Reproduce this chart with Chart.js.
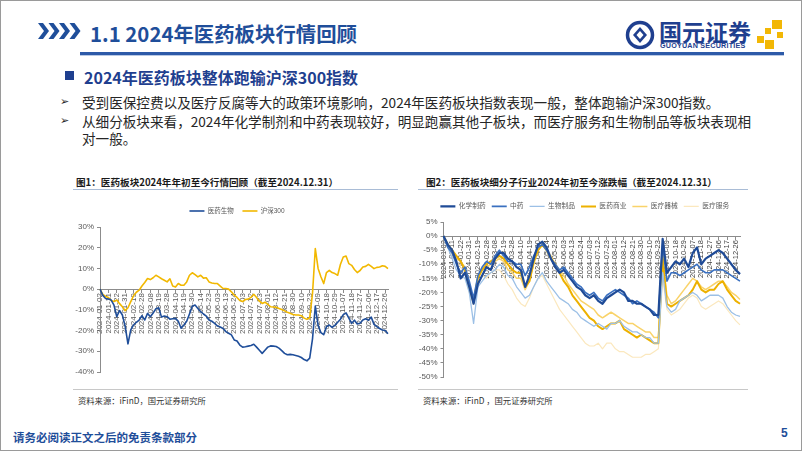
<!DOCTYPE html>
<html>
<head>
<meta charset="utf-8">
<script src="https://cdn.jsdelivr.net/npm/chart.js@4.4.1/dist/chart.umd.min.js"></script>
<style>
  html, body { margin: 0; padding: 0; background: #fff; }
  #slide { position: relative; width: 802px; height: 451px; overflow: hidden; background: #fff; font-family: 'Noto Sans CJK SC', sans-serif; }
  #frame { position: absolute; left: 0; top: 0; width: 802px; height: 451px; box-sizing: border-box; border: 1px solid #9a9a9a; pointer-events: none; }
  .t { position: absolute; white-space: nowrap; }
  .hd { left: 90px; top: 20px; font-size: 20.4px; line-height: 26px; font-weight: bold; color: #1f4e9a; }
  .sec { left: 84px; top: 67px; font-size: 16px; line-height: 20px; font-weight: bold; color: #1f3f8f; }
  .body { left: 82px; font-size: 13.6px; line-height: 20px; color: #262626; }
  .bul { left: 60px; font-size: 11px; line-height: 20px; color: #262626; font-family: 'DejaVu Sans', sans-serif; }
  .ctitle { top: 176px; font-size: 9.6px; line-height: 12px; font-weight: bold; color: #1a1a1a; }
  .src { top: 395px; font-size: 8.3px; line-height: 10px; color: #333; }
  .rule { position: absolute; height: 0; }
  canvas { position: absolute; }
</style>
</head>
<body>
<div id="slide">
  <svg class="t" style="left:38px;top:23px" width="44" height="16">
    <polygon points="0,0 5,0 11,8 5,16 0,16 6,8" fill="#1f4e9a"/>
    <polygon points="10.5,0 15.5,0 21.5,8 15.5,16 10.5,16 16.5,8" fill="#1f4e9a"/>
    <polygon points="21,0 26,0 32,8 26,16 21,16 27,8" fill="#1f4e9a"/>
    <polygon points="31.5,0 36.5,0 42.5,8 36.5,16 31.5,16 37.5,8" fill="#1f4e9a"/>
  </svg>
  <div class="t hd">1.1 2024年医药板块行情回顾</div>

  <svg class="t" style="left:624px;top:20px" width="32" height="30">
    <circle cx="16" cy="15" r="12.5" fill="none" stroke="#1f3f8f" stroke-width="3.5"/>
    <polygon points="16,7 23,15 16,23 9,15" fill="#1f3f8f"/>
    <polygon points="16,11 19.5,15 16,19 12.5,15" fill="#fff"/>
  </svg>
  <div class="t" style="left:659px;top:18px;font-size:23px;line-height:26px;font-weight:bold;color:#1f3f8f;">国元证券</div>
  <div class="t" style="left:660px;top:42px;font-size:7.2px;line-height:8px;font-weight:bold;color:#1f3f8f;font-family:'Liberation Sans',sans-serif;letter-spacing:0.2px;">GUOYUAN SECURITIES</div>
  <svg class="t" style="left:756px;top:19px" width="30" height="32">
    <rect x="16" y="1" width="10" height="9" fill="#f2b705"/>
    <rect x="9" y="9" width="6" height="6" fill="#f2b705"/>
    <rect x="21" y="13" width="6" height="6" fill="#f2b705"/>
    <rect x="1" y="17" width="7" height="7" fill="#f2b705"/>
    <rect x="9" y="21" width="9" height="9" fill="#f2b705"/>
  </svg>
  <div class="rule" style="left:80px;top:52px;width:704px;border-top:3px solid #2d5aa8;"></div>
  <div class="rule" style="left:80px;top:55px;width:704px;border-top:1px solid #b9c9e4;"></div>

  <div class="t" style="left:65px;top:71px;width:9px;height:9px;background:#1f3f8f;"></div>
  <div class="t sec">2024年医药板块整体跑输沪深300指数</div>

  <div class="t bul" style="top:92px">➢</div>
  <div class="t body" style="top:92px">受到医保控费以及医疗反腐等大的政策环境影响，2024年医药板块指数表现一般，整体跑输沪深300指数。</div>
  <div class="t bul" style="top:111px">➢</div>
  <div class="t body" style="top:111px">从细分板块来看，2024年化学制剂和中药表现较好，明显跑赢其他子板块，而医疗服务和生物制品等板块表现相</div>
  <div class="t body" style="top:128px">对一般。</div>

  <div class="t ctitle" style="left:76px">图1：医药板块2024年年初至今行情回顾（截至2024.12.31）</div>
  <div class="rule" style="left:73px;top:189px;width:325px;border-top:1.5px solid #a9bcd6;"></div>
  <div class="rule" style="left:73px;top:389px;width:325px;border-top:1px solid #c8c8c8;"></div>
  <div class="t src" style="left:78px">资料来源：iFinD，国元证券研究所</div>

  <div class="t ctitle" style="left:426px">图2：医药板块细分子行业2024年初至今涨跌幅（截至2024.12.31）</div>
  <div class="rule" style="left:418px;top:189px;width:330px;border-top:1.5px solid #a9bcd6;"></div>
  <div class="rule" style="left:418px;top:389px;width:330px;border-top:1px solid #c8c8c8;"></div>
  <div class="t src" style="left:423px">资料来源：iFinD ，国元证券研究所</div>

  <canvas id="c1" width="340" height="185" style="left:60px;top:195px"></canvas>
  <canvas id="c2" width="345" height="190" style="left:405px;top:195px"></canvas>

  <div class="t" style="left:13px;top:430px;font-size:11.5px;line-height:14px;font-weight:bold;color:#1f4e9a;">请务必阅读正文之后的免责条款部分</div>
  <div class="t" style="left:781px;top:426px;font-size:12px;line-height:14px;font-weight:bold;color:#1f4e9a;font-family:'Liberation Sans',sans-serif;">5</div>
  <div id="frame"></div>
</div>

<script>
// x-axis tick dates (every 7 trading days)
const tickDates = [
  "2024-01-02", "2024-01-11", "2024-01-22", "2024-01-31", "2024-02-19", "2024-02-28", "2024-03-08",
  "2024-03-19", "2024-03-28", "2024-04-10", "2024-04-19", "2024-04-30", "2024-05-14", "2024-05-23",
  "2024-06-03", "2024-06-13", "2024-06-24", "2024-07-03", "2024-07-12", "2024-07-23", "2024-08-01",
  "2024-08-12", "2024-08-21", "2024-08-30", "2024-09-10", "2024-09-23", "2024-10-09", "2024-10-18",
  "2024-10-29", "2024-11-07", "2024-11-18", "2024-11-27", "2024-12-06", "2024-12-17", "2024-12-26"
];

// Fig 1: cumulative change since 2024-01-02 (%), 3 samples per tick interval
const names1 = ["医药生物", "沪深300"];
const yiyaoShengwu = [
  0, -3.0, -4.5, -4.8, -5.3, -7.7, -13.3, -10.3, -12.5, -18.0, -26.4, -19.7,
  -17.3, -16.0, -14.9, -12.8, -14.9, -11.7, -13.3, -11.5, -9.5, -9.0, -13.5, -13.0,
  -13.3, -14.5, -14.3, -14.1, -15.5, -18.9, -17.3, -15.5, -12.0, -8.3, -7.7, -9.3,
  -10.9, -12.0, -13.0, -14.9, -15.5, -16.5, -17.8, -18.3, -19.0, -20.5, -21.3, -22.1,
  -24.5, -25.0, -27.0, -28.0, -27.8, -27.5, -27.2, -26.6, -28.0, -29.5, -31.0, -29.5,
  -28.0, -27.4, -27.5, -27.7, -28.5, -29.7, -31.0, -31.7, -31.5, -31.7, -32.0, -32.4,
  -33.0, -34.0, -34.6, -33.3, -24.0, -8.2, -17.5, -21.0, -22.0, -18.1, -17.3, -18.5,
  -17.5, -16.0, -14.5, -12.3, -11.5, -14.0, -16.5, -15.0, -16.8, -16.5, -14.9, -14.3,
  -15.0, -13.5, -17.0, -18.1, -19.0, -19.7, -20.0, -21.5
];
const hushen300 = [
  0, -2.5, -3.5, -4.0, -5.5, -6.0, -5.3, -7.0, -8.5, -10.4, -9.0, -6.0,
  -3.2, -1.5, -0.5, 1.5, 3.2, 5.1, 4.6, 5.5, 6.7, 5.9, 5.0, 4.3,
  3.5, 5.0, 1.5, 1.0, 2.7, 1.9, 1.9, 3.5, 6.7, 7.9, 7.0, 5.9,
  6.7, 5.3, 5.5, 3.5, 3.0, 2.7, 2.7, 1.5, 0.3, 0.3, 0.0, -1.3,
  -2.9, -4.0, -5.5, -6.0, -5.0, -4.8, -4.0, -2.5, -4.0, -5.8, -6.9, -6.3,
  -7.3, -8.5, -8.6, -8.8, -9.3, -9.8, -10.5, -11.2, -11.6, -12.2, -12.5, -12.5,
  -12.8, -14.0, -14.6, -13.8, -2.1, 19.6, 10.0, 6.0, 2.7, 8.0, 9.1, 8.0,
  7.5, 6.7, 12.0, 15.5, 16.0, 12.3, 11.5, 9.5, 8.0, 9.0, 10.7, 11.0,
  12.0, 11.0, 9.9, 10.5, 10.7, 11.3, 11.0, 9.9
];

// Fig 2: sub-sector change since 2024-01-02 (%), 2 samples per tick interval
const names2 = ["化学制药", "中药", "生物制品", "医药商业", "医疗器械", "医疗服务"];
const huaxueZhiyao = [
  0, -3, -5, -9, -15, -13, -18, -24, -17, -14, -11, -12, -8, -6, -6, -8, -9, -11, -12, -18,
  -14, -8, -3, -2, -4, -8, -11, -13, -12, -14, -16, -18, -19, -21, -22, -21, -23, -24, -22, -21,
  -20, -19, -20, -23, -23, -24, -24, -25, -26, -28, -28, -1, -13, -11, -9, -10, -8, -11, -6, -4,
  -10, -8, -7, -6, -5, -6, -8, -10, -12, -13.5
];
const zhongyao = [
  0, -4, -6, -10, -13, -11, -16, -22, -14, -11, -9, -10, -7, -5, -7, -9, -9, -10, -10, -14,
  -11, -7, -4, -3, -5, -8, -10, -12, -11, -13, -15, -17, -18, -20, -21, -20, -22, -23, -21, -20,
  -19, -20, -21, -22, -24, -23, -24, -25, -26, -27, -29, -3, -16, -13, -13, -14, -13, -12, -11, -10,
  -12, -13, -13, -12, -12, -12, -13, -14, -15, -16
];
const shengwuZhipin = [
  0, -4, -8, -12, -14, -15, -20, -31, -18, -16, -14, -13, -12, -10, -11, -14, -15, -18, -20, -22,
  -21, -18, -15, -13, -16, -18, -20, -22, -23, -24, -26, -27, -29, -30, -31, -32, -31, -32, -33, -31,
  -31, -30, -32, -33, -34, -34, -35, -36, -36, -38, -38, -13, -25, -27, -26, -23, -22, -21, -20, -21,
  -23, -22, -21, -21, -21, -22, -25, -27, -28, -28.5
];
const yiyaoShangye = [
  0, -3, -5, -7, -9, -12, -18, -23, -15, -12, -10, -9, -8, -7, -8, -10, -12, -13, -13, -18,
  -16, -9, -5, -3, -5, -8, -10, -13, -16, -18, -21, -23, -25, -27, -29, -30, -32, -33, -32, -31,
  -31, -30, -33, -34, -35, -36, -35, -36, -37, -38, -38, -7, -24, -25, -24, -23, -22, -21, -19, -16,
  -19, -20, -19, -19, -17, -16, -19, -21, -23, -24
];
const yiliaoQixie = [
  0, -4, -6, -8, -9, -11, -19, -24, -14, -12, -11, -10, -9, -8, -9, -12, -13, -15, -15, -19,
  -16, -10, -5, -3, -5, -7, -10, -12, -14, -17, -19, -21, -23, -24, -25, -26, -28, -29, -28, -27,
  -28, -29, -30, -31, -31, -32, -33, -34, -34, -36, -36, -9, -21, -24, -23, -21, -19, -17, -15, -16,
  -18, -19, -18, -17, -16, -16, -18, -20, -21, -22.5
];
const yiliaoFuwu = [
  0, -4, -7, -9, -11, -13, -20, -24, -16, -14, -15, -13, -12, -12, -14, -17, -19, -22, -24, -25,
  -22, -18, -15, -14, -17, -20, -23, -26, -28, -30, -32, -34, -36, -38, -39, -39, -38, -40, -38, -38,
  -40, -41, -41, -42, -43, -43, -43, -42, -42, -41, -40, -15, -26, -28, -27, -26, -24, -22, -21, -22,
  -25, -26, -25, -24, -23, -24, -26, -28, -30, -31.5
];

// category labels: tick date followed by blanks for the samples in between
function buildLabels(perInterval, tail) {
  const out = [];
  tickDates.forEach((d, i) => {
    out.push(d);
    const blanks = i < tickDates.length - 1 ? perInterval - 1 : tail;
    for (let k = 0; k < blanks; k++) out.push("");
  });
  return out;
}
const labels1 = buildLabels(3, 1);
const labels2 = buildLabels(2, 1);

Chart.defaults.font.family = "'Liberation Sans', 'Noto Sans CJK SC', sans-serif";
Chart.defaults.color = "#595959";

// fixed legend height + small horizontal nudge of the legend row
const legendTweak = {
  id: "legendTweak",
  beforeInit(chart, args, opts) {
    const legend = chart.legend;
    const fit = legend.fit;
    legend.fit = function () {
      fit.call(this);
      this.height = opts.height;
    };
    const draw = legend.draw;
    legend.draw = function () {
      this.ctx.save();
      this.ctx.translate(opts.dx || 0, 0);
      draw.call(this);
      this.ctx.restore();
    };
  }
};

function pct(v) { return v + "%"; }

function makeOptions(cfg) {
  return {
    responsive: false,
    animation: false,
    layout: { padding: cfg.padding },
    elements: { point: { radius: 0 }, line: { tension: 0, borderJoinStyle: "round" } },
    plugins: {
      tooltip: { enabled: false },
      legendTweak: { height: cfg.legendHeight, dx: cfg.legendDx },
      legend: {
        position: "top",
        labels: {
          usePointStyle: true,
          pointStyle: "line",
          pointStyleWidth: 15,
          boxHeight: cfg.legendFont,
          padding: cfg.legendPadding,
          color: "#595959",
          font: { size: cfg.legendFont }
        }
      }
    },
    scales: {
      x: {
        type: "category",
        position: { y: 0 },
        grid: {
          drawOnChartArea: false,
          drawTicks: true,
          tickLength: 3,
          color: (ctx) => (ctx.tick && ctx.tick.label ? "#8c8c8c" : "rgba(0,0,0,0)")
        },
        border: { display: true, color: "#8c8c8c", width: 1 },
        ticks: {
          autoSkip: false,
          minRotation: 90,
          maxRotation: 90,
          padding: 1,
          color: cfg.xColor,
          font: { size: cfg.xFont }
        }
      },
      y: {
        min: cfg.yMin,
        max: cfg.yMax,
        afterFit: (scale) => { scale.width = 26; },
        grid: { drawOnChartArea: false, drawTicks: true, tickLength: 3, color: "#8c8c8c" },
        border: { display: true, color: "#8c8c8c", width: 1 },
        ticks: { stepSize: cfg.yStep, padding: 3, color: "#595959", font: { size: 8 }, callback: pct }
      }
    }
  };
}

function lineSet(label, data, color, width) {
  return { label, data, borderColor: color, backgroundColor: color, borderWidth: width, fill: false };
}

new Chart(document.getElementById("c1"), {
  type: "line",
  data: {
    labels: labels1,
    datasets: [
      lineSet(names1[0], yiyaoShengwu, "#1f4e9a", 1.6),
      lineSet(names1[1], hushen300, "#f2b800", 1.6)
    ]
  },
  options: makeOptions({
    padding: { left: 14, right: 12, top: 4, bottom: 8 },
    legendHeight: 28, legendDx: 6, legendFont: 6.5, legendPadding: 8.75,
    xFont: 8, xColor: "#595959",
    yMin: -40, yMax: 30, yStep: 10
  }),
  plugins: [legendTweak]
});

new Chart(document.getElementById("c2"), {
  type: "line",
  data: {
    labels: labels2,
    datasets: [
      lineSet(names2[0], huaxueZhiyao, "#1f4b97", 2.2),
      lineSet(names2[1], zhongyao, "#3a70c0", 1.6),
      lineSet(names2[2], shengwuZhipin, "#9cc0e6", 1.3),
      lineSet(names2[3], yiyaoShangye, "#edb100", 2.0),
      lineSet(names2[4], yiliaoQixie, "#f9d36a", 1.5),
      lineSet(names2[5], yiliaoFuwu, "#fbe8be", 1.2)
    ]
  },
  options: makeOptions({
    padding: { left: 12.5, right: 9, top: 2, bottom: 8 },
    legendHeight: 25, legendDx: 5.5, legendFont: 6.75, legendPadding: 6,
    xFont: 7.5, xColor: "#404040",
    yMin: -50, yMax: 5, yStep: 5
  }),
  plugins: [legendTweak]
});
</script>
</body>
</html>
